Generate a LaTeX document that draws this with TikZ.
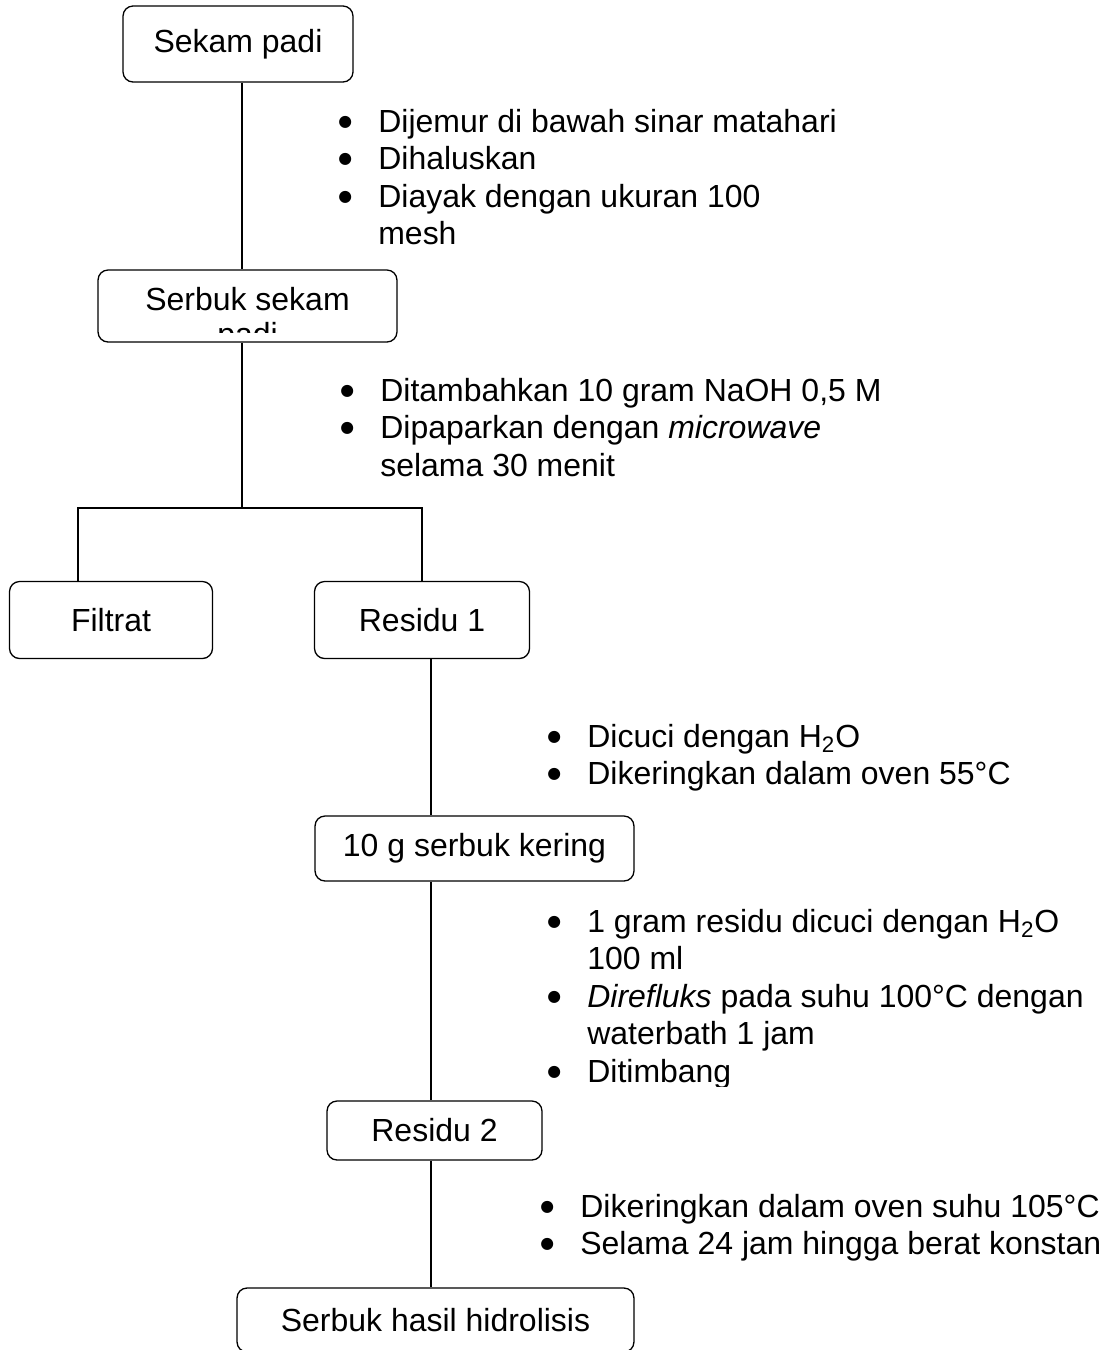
\documentclass[tikz,border=0pt]{standalone}
\usepackage{fontspec}
\setmainfont{Liberation Sans}
\newfontfamily\bulfont{DejaVu Sans}
\usetikzlibrary{positioning}

\tikzset{
    box/.style={draw, rounded corners=0.2cm, line width=0.75pt, fill=white, inner sep=0pt},
    link/.style={line width=1pt},
    notes/.style={anchor=base west, inner sep=0pt},
}
\newlength{\bulw}\setlength{\bulw}{0.92cm}
\newcommand{\bul}{\makebox[\bulw][l]{\hspace{0.12cm}\raisebox{0.12cm}{\bulfont\fontsize{9pt}{10pt}\selectfont ●}}}

\begin{document}
\begin{tikzpicture}[x=0.02cm, y=-0.02cm, font=\fontsize{18.2pt}{21.4pt}\selectfont]
    \clip (0,0) rectangle (1110,1350);

    % boxes
    \node[box, minimum width=4.6cm, minimum height=1.52cm] (sekam) at (238,44) {Sekam padi};
    \node[box, minimum width=5.98cm, minimum height=1.44cm] (serbuk) at (247.5,306) {};
    \node[anchor=base, inner sep=0pt] (serbuktxt) at (247.5,310) {Serbuk sekam};
    \begin{scope}
        \clip (98,270) rectangle (397,332);
        \node[anchor=base, inner sep=0pt] (serbukpadi) at (247.5,345) {padi};
    \end{scope}
    \node[box, minimum width=4.06cm, minimum height=1.54cm] (filtrat) at (111,620) {Filtrat};
    \node[box, minimum width=4.3cm, minimum height=1.54cm] (res1) at (422,620) {Residu 1};
    \node[box, minimum width=6.38cm, minimum height=1.3cm] (dry) at (474.5,848.5) {10 g serbuk kering};
    \node[box, minimum width=4.3cm, minimum height=1.18cm] (res2) at (434.5,1130.5) {Residu 2};
    \node[box, minimum width=7.94cm, minimum height=1.28cm] (hasil) at (435.5,1320) {Serbuk hasil hidrolisis};

    % connectors
    \coordinate (spine1) at (242,0);
    \coordinate (spine2) at (431,0);
    \coordinate (lbranch) at (78,0);
    \coordinate (split) at (242,508);
    \draw[link] (sekam.south -| spine1) -- (serbuk.north -| spine1);
    \draw[link] (serbuk.south -| spine1) -- (split);
    \draw[link] (filtrat.north -| lbranch) |- (split) -| (res1.north);
    \draw[link] (res1.south -| spine2) -- (dry.north -| spine2);
    \draw[link] (dry.south -| spine2) -- (res2.north -| spine2);
    \draw[link] (res2.south -| spine2) -- (hasil.north -| spine2);

    % process steps
    \node[notes] (step1) at (332,132) {\begin{tabular}[t]{@{}l@{}l@{}}
        \bul & Dijemur di bawah sinar matahari\\
        \bul & Dihaluskan\\
        \bul & Diayak dengan ukuran 100\\
             & mesh
    \end{tabular}};
    \node[notes] (step2) at (334,401) {\begin{tabular}[t]{@{}l@{}l@{}}
        \bul & Ditambahkan 10 gram NaOH 0,5 M\\
        \bul & Dipaparkan dengan \textit{microwave}\\
             & selama 30 menit
    \end{tabular}};
    \node[notes] (step3) at (541,747) {\begin{tabular}[t]{@{}l@{}l@{}}
        \bul & Dicuci dengan H\textsubscript{2}O\\
        \bul & Dikeringkan dalam oven 55°C
    \end{tabular}};
    \begin{scope}
        \clip (0,0) rectangle (1110,1086);
        \node[notes] (step4) at (541,932) {\begin{tabular}[t]{@{}l@{}l@{}}
            \bul & 1 gram residu dicuci dengan H\textsubscript{2}O\\
                 & 100 ml\\
            \bul & \textit{Direfluks} pada suhu 100°C dengan\\
                 & waterbath 1 jam\\
            \bul & Ditimbang
        \end{tabular}};
    \end{scope}
    \node[notes] (step5) at (534,1217) {\begin{tabular}[t]{@{}l@{}l@{}}
        \bul & Dikeringkan dalam oven suhu 105°C\\
        \bul & Selama 24 jam hingga berat konstan
    \end{tabular}};
\end{tikzpicture}
\end{document}
